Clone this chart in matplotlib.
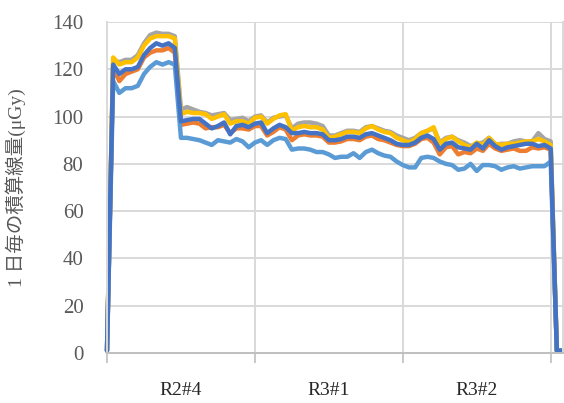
import matplotlib
matplotlib.use('Agg')
from matplotlib import pyplot as plt
from matplotlib.ticker import FixedLocator

# daily integrated dose per monitoring point (uGy), one value per day
dose_orange = [1, 121, 115, 118, 119, 120, 125, 127, 128, 128, 129, 127,
               96.5, 97, 97.5, 97, 95, 95.5, 95.5, 96.5, 93, 95, 95, 94.5,
               96, 96, 92, 93.5, 95.5, 94.5, 90, 92, 92.5, 92, 92, 91.5,
               89, 89, 89.5, 90.5, 90.5, 90, 91.5, 92, 90.5, 90, 89, 88,
               87.5, 87.5, 88.5, 90.5, 91, 89, 84, 87, 87.5, 84, 85, 84.5,
               86.5, 85.5, 88.5, 86.5, 85.5, 86, 86.5, 85.5, 85.5, 87, 86.5, 87,
               86, 1, 1]
dose_gray = [1, 124, 123, 124, 124, 126, 131, 134.5, 135.5, 135, 135, 134,
             103, 104, 103, 102, 101.5, 100.5, 101, 101.5, 98.5, 99, 99.5, 98,
             100, 100.5, 97.5, 99.5, 100, 100.5, 95, 97, 97.5, 97.5, 97, 96,
             92, 92, 93, 94, 94, 93.5, 95.5, 96, 95, 94, 93.5, 92,
             91, 90, 91, 93, 94, 95, 89, 91, 91.5, 90, 89, 87.5,
             88.5, 89, 91, 88, 88.5, 88.5, 89.5, 90, 89.5, 89.5, 93, 90.5,
             89.5, 1, 1]
dose_yellow = [1, 125, 122, 123, 123, 125, 130, 133, 134, 134, 134, 133,
               101, 102, 101.5, 101.5, 101, 99, 100, 101, 97, 98, 98, 97,
               99.5, 100, 97, 99, 100.5, 101, 94, 95.5, 96, 95.5, 95.5, 94.5,
               91, 91.5, 92.5, 93.5, 93.5, 93, 95, 96, 94.5, 93.5, 93, 91,
               90, 89, 90.5, 93, 94, 95.5, 88.5, 90.5, 91.5, 89.5, 88, 87,
               89, 88, 91, 88.5, 88, 88.5, 88.5, 89, 89.5, 89.5, 90.5, 89.5,
               88, 1, 1]
dose_lightblue = [1, 115, 110, 112, 112, 113, 118, 121, 123, 122, 123, 122,
                  91, 91, 90.5, 90, 89, 88, 90, 89.5, 89, 90.5, 89.5, 87,
                  89, 90, 88, 90, 91, 90.5, 86, 86.5, 86.5, 86, 85, 85,
                  84, 82.5, 83, 83, 84.5, 82.5, 85, 86, 84.5, 83.5, 83, 81,
                  79.5, 78.5, 78.5, 82.5, 83, 82.5, 81, 80, 79.5, 77.5, 78, 80,
                  77, 79.5, 79.5, 79, 77.5, 78.5, 79, 78, 78.5, 79, 79, 79,
                  81, 1, 1]
dose_blue = [1, 122, 118, 120, 120, 121, 126, 129, 131, 130, 131, 129,
             98, 98.5, 99, 99, 97, 95, 96, 97.5, 92.5, 96, 96.5, 95.5,
             97, 97.5, 93, 95, 96.5, 95.5, 93, 93, 93.5, 93, 93, 92.5,
             90, 90, 90.5, 91.5, 91.5, 91, 92.5, 93, 92, 91, 90, 88.5,
             88, 88, 89, 91, 92, 90.5, 86, 88.5, 89, 87, 86.5, 86,
             88.5, 86.5, 90, 87.5, 86, 87, 87.5, 88, 88.5, 88.5, 87.5, 88,
             86.5, 1, 1]

run_labels = ['R2#4', 'R3#1', 'R3#2']
days_per_run = 24

series = [(dose_orange, '#ED7D31'), (dose_gray, '#A5A5A5'),
          (dose_yellow, '#FFC000'), (dose_lightblue, '#5B9BD5'),
          (dose_blue, '#4472C4')]

grid_color = '#D9D9D9'
text_color = '#595959'
serif_jp = ['Liberation Serif', 'Noto Sans CJK JP']

fig = plt.figure(figsize=(5.64, 4.03), dpi=100)
ax = fig.add_axes([107 / 564, 50 / 403, 456 / 564, 331 / 403])

for values, color in series:
    ax.plot(range(len(values)), values, color=color, linewidth=3.2,
            solid_joinstyle='round', solid_capstyle='round', clip_on=False)

n_days = len(dose_blue)
ax.set_xlim(0, n_days - 1)
ax.set_ylim(0, 140)

# value axis
ax.set_yticks(range(0, 141, 20))
ax.yaxis.grid(True, color=grid_color, linewidth=1.4)
ax.tick_params(axis='y', length=0, pad=17, labelsize=15, labelcolor=text_color)

# category axis: ticks between runs, labels in the middle of each run
ax.xaxis.set_major_locator(FixedLocator([days_per_run * k for k in range(len(run_labels) + 1)]))
ax.xaxis.set_minor_locator(FixedLocator([days_per_run * (k + 0.5) for k in range(len(run_labels))]))
ax.xaxis.grid(True, which='major', color=grid_color, linewidth=1.4)
ax.set_xticklabels([], minor=False)
ax.set_xticklabels(run_labels, minor=True)
ax.tick_params(axis='x', which='major', length=7, width=1.2, color='#BFBFBF')
ax.tick_params(axis='x', which='minor', length=0, pad=21, labelsize=14,
               labelcolor='#262626')
ax.set_axisbelow(True)

for lbl in ax.get_yticklabels() + ax.get_xticklabels(minor=True):
    lbl.set_family(serif_jp)

ax.spines['top'].set_visible(False)
ax.spines['bottom'].set_color('#BFBFBF')
ax.spines['bottom'].set_linewidth(1.4)
ax.spines['left'].set_color(grid_color)
ax.spines['left'].set_linewidth(1.4)
ax.spines['right'].set_color(grid_color)
ax.spines['right'].set_linewidth(1.4)

ax.set_ylabel('1 日毎の積算線量(μGy)', fontsize=14, color=text_color,
              family=serif_jp)
ax.yaxis.set_label_coords(-81 / 456, 0.5)

plt.savefig('out.png', dpi=100)
plt.close()
